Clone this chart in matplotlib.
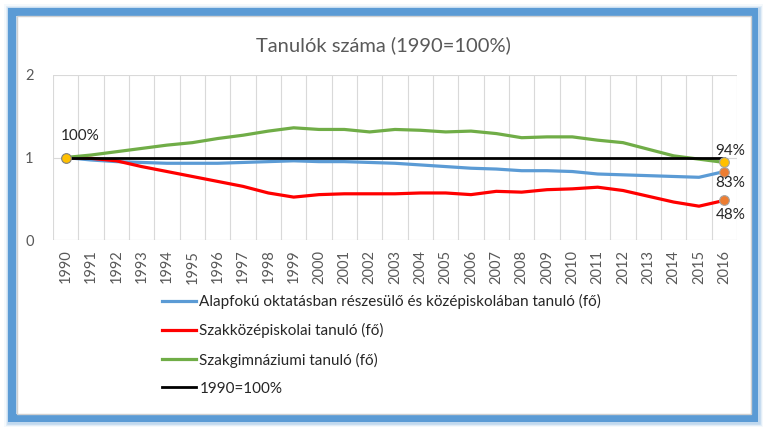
import matplotlib
matplotlib.use("Agg")
import matplotlib.pyplot as plt
from matplotlib.patches import Rectangle

plt.rcParams['font.family'] = ['Lato', 'DejaVu Sans']

years = [str(y) for y in range(1990, 2017)]
alapfoku = [1.00, 0.97, 0.95, 0.94, 0.93, 0.93, 0.93, 0.94, 0.95, 0.96, 0.95,
            0.95, 0.94, 0.93, 0.91, 0.89, 0.87, 0.86, 0.84, 0.84, 0.83,
            0.80, 0.79, 0.78, 0.77, 0.76, 0.83]
szakkozep = [1.00, 0.99, 0.96, 0.89, 0.83, 0.77, 0.71, 0.65, 0.57, 0.52, 0.55,
             0.56, 0.56, 0.56, 0.57, 0.57, 0.55, 0.59, 0.58, 0.61, 0.62,
             0.64, 0.60, 0.53, 0.46, 0.41, 0.48]
szakgimn = [1.00, 1.03, 1.07, 1.11, 1.15, 1.18, 1.23, 1.27, 1.32, 1.36, 1.34,
            1.34, 1.31, 1.34, 1.33, 1.31, 1.32, 1.29, 1.24, 1.25, 1.25,
            1.21, 1.18, 1.10, 1.02, 0.98, 0.94]
base = [1.0] * len(years)

series_names = ["Alapfokú oktatásban részesülő és középiskolában tanuló (fő)",
                "Szakközépiskolai tanuló (fő)",
                "Szakgimnáziumi tanuló (fő)",
                "1990=100%"]
title = "Tanulók száma (1990=100%)"

W, H = 767, 432
fig = plt.figure(figsize=(W / 100, H / 100), dpi=100)


def fx(px):
    return px / W


def fy(py):
    return 1 - py / H


# frame with soft glow
for lw, a in [(16, 0.06), (13, 0.12), (10.5, 0.25)]:
    fig.patches.append(Rectangle((fx(12), fy(418.5)), fx(754.5) - fx(12), fy(11.5) - fy(418.5),
                                 transform=fig.transFigure, fill=False,
                                 edgecolor="#5B9BD5", linewidth=lw * 0.72, alpha=a, zorder=0))
fig.patches.append(Rectangle((fx(11.5), fy(418)), fx(754.5) - fx(11.5), fy(11.5) - fy(418),
                             transform=fig.transFigure, fill=False,
                             edgecolor="#5B9BD5", linewidth=8 * 0.72, zorder=1))
fig.patches.append(Rectangle((fx(16.5), fy(413.5)), fx(750.5) - fx(16.5), fy(16) - fy(413.5),
                             transform=fig.transFigure, facecolor="white",
                             edgecolor="#D0D0D0", linewidth=1.0, zorder=2))

ax = fig.add_axes([53 / W, 1 - 240 / H, (737 - 53) / W, (240 - 75) / H])
ax.set_zorder(3)
ax.patch.set_alpha(0)

x = list(range(len(years)))
ax.set_xlim(-0.5, len(years) - 0.5)
ax.set_ylim(0, 2)

for b in [i - 0.5 for i in range(len(years) + 1)]:
    ax.axvline(b, color="#D9D9D9", linewidth=0.8, zorder=1)
for yv in [1, 2]:
    ax.axhline(yv, color="#D9D9D9", linewidth=0.8, zorder=1)
ax.axhline(0, color="#BFBFBF", linewidth=0.8, zorder=1)

ax.plot(x, alapfoku, color="#5B9BD5", linewidth=2.3, label=series_names[0], zorder=3,
        solid_joinstyle="round")
ax.plot(x, szakkozep, color="#FF0000", linewidth=2.3, label=series_names[1], zorder=3,
        solid_joinstyle="round")
ax.plot(x, szakgimn, color="#70AD47", linewidth=2.3, label=series_names[2], zorder=3,
        solid_joinstyle="round")
ax.plot(x, base, color="#000000", linewidth=2.0, label=series_names[3], zorder=4)

# markers
ax.plot([x[0]], [base[0]], marker="o", markersize=7, markerfacecolor="#FFC000",
        markeredgecolor="#7F7F7F", markeredgewidth=0.8, linestyle="none", zorder=6)
ax.plot([x[-1]], [szakgimn[-1]], marker="o", markersize=7, markerfacecolor="#FFC000",
        markeredgecolor="#A5A5A5", markeredgewidth=0.8, linestyle="none", zorder=6)
ax.plot([x[-1]], [alapfoku[-1]], marker="o", markersize=7, markerfacecolor="#ED7D31",
        markeredgecolor="#A5A5A5", markeredgewidth=0.8, linestyle="none", zorder=6)
ax.plot([x[-1]], [szakkozep[-1]], marker="o", markersize=7, markerfacecolor="#ED7D31",
        markeredgecolor="#A5A5A5", markeredgewidth=0.8, linestyle="none", zorder=6)

lab_kw = dict(fontsize=11, color="#262626", zorder=7)
ax.annotate(f"{base[0]*100:.0f}%", (x[0], base[0]), xytext=(14, 21), textcoords="offset pixels",
            ha="center", va="center", **lab_kw)
ax.annotate(f"{szakgimn[-1]*100:.0f}%", (x[-1], szakgimn[-1]), xytext=(6, 11), textcoords="offset pixels",
            ha="center", va="center", **lab_kw)
ax.annotate(f"{alapfoku[-1]*100:.0f}%", (x[-1], alapfoku[-1]), xytext=(6, -11), textcoords="offset pixels",
            ha="center", va="center", **lab_kw)
ax.annotate(f"{szakkozep[-1]*100:.0f}%", (x[-1], szakkozep[-1]), xytext=(6, -15), textcoords="offset pixels",
            ha="center", va="center", **lab_kw)

ax.set_xticks(x)
ax.set_xticklabels(years, rotation=90, fontsize=10.5, color="#595959")
ax.set_yticks([0, 1, 2])
ax.set_yticklabels(["0", "1", "2"], fontsize=10.5, color="#595959")
ax.tick_params(axis="x", length=0, pad=7)
ax.tick_params(axis="y", length=0, pad=14)
for s in ax.spines.values():
    s.set_visible(False)

fig.text(383 / W, 1 - 45 / H, title, ha="center", va="center", fontsize=14.5,
         color="#595959", zorder=5)

leg = ax.legend(loc="upper left", bbox_to_anchor=(162 / W, 1 - 294 / H),
                bbox_transform=fig.transFigure, frameon=False, fontsize=11,
                handlelength=2.25, handletextpad=0.2, labelspacing=0.93,
                borderaxespad=0, borderpad=0)
for t in leg.get_texts():
    t.set_color("#262626")

fig.savefig("out.png", dpi=100)
